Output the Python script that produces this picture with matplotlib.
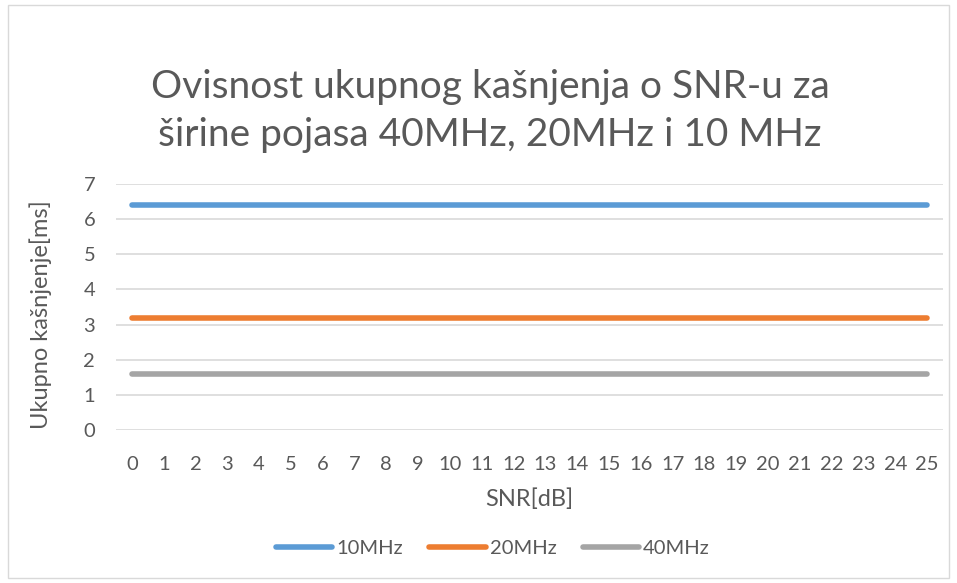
import matplotlib.pyplot as plt
from matplotlib.patches import Rectangle

snr = list(range(0, 26))
series_names = ['10MHz', '20MHz', '40MHz']
delay_10 = [6.4] * 26
delay_20 = [3.2] * 26
delay_40 = [1.6] * 26
colors = ['#5B9BD5', '#ED7D31', '#A5A5A5']

plt.rcParams['font.family'] = ['Lato', 'DejaVu Sans']
txt = '#595959'

fig = plt.figure(figsize=(9.57, 5.83), dpi=100)
ax = fig.add_axes([116 / 957, 1 - 430 / 583, 827 / 957, 246 / 583])

for vals, name, c in zip([delay_10, delay_20, delay_40], series_names, colors):
    ax.plot(snr, vals, color=c, lw=4, solid_capstyle='round', label=name)

ax.set_xlim(-0.5, 25.5)
ax.set_ylim(0, 7)
ax.set_yticks(range(0, 8))
ax.set_xticks(snr)
ax.grid(axis='y', color='#D9D9D9', lw=1.2)
ax.set_axisbelow(True)
for s in ax.spines.values():
    s.set_visible(False)
ax.tick_params(length=0, labelsize=14.5, colors=txt)
ax.tick_params(axis='x', pad=19)
ax.tick_params(axis='y', pad=15)
ax.set_xlabel('SNR[dB]', fontsize=17, color=txt, labelpad=11)
ax.set_ylabel('Ukupno kašnjenje[ms]', fontsize=17, color=txt)
ax.yaxis.set_label_coords(-0.077, 0.47)

fig.text(0.512, 0.81, 'Ovisnost ukupnog kašnjenja o SNR-u za\nširine pojasa 40MHz, 20MHz i 10 MHz',
         ha='center', va='center', fontsize=28, color=txt, linespacing=1.42)

fig.legend(loc='center', bbox_to_anchor=(0.515, 1 - 548 / 583), ncol=3, frameon=False,
           fontsize=14.5, labelcolor=txt, handlelength=2.8, handletextpad=0.2, columnspacing=1.3)

fig.patches.append(Rectangle((0.008, 0.008), 0.984, 0.984, transform=fig.transFigure,
                             fill=False, edgecolor='#D9D9D9', lw=1))

fig.savefig('out.png', dpi=100)
